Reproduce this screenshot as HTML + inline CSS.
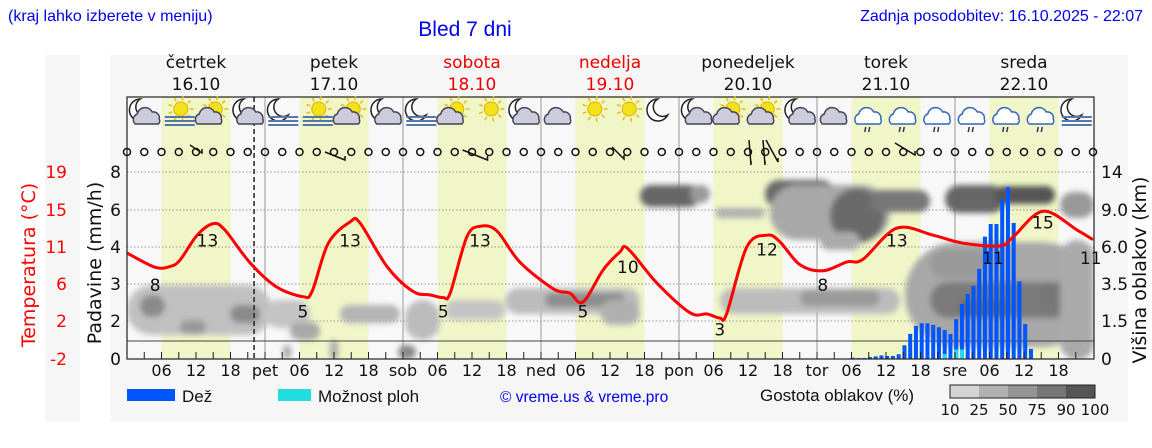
<!DOCTYPE html>
<html><head><meta charset="utf-8"><style>
body{margin:0;background:#fff;width:1152px;height:443px;overflow:hidden;font-family:"Liberation Sans","DejaVu Sans",sans-serif}
svg text{font-family:"DejaVu Sans","Liberation Sans",sans-serif}
</style></head><body>
<svg id="c" width="1152" height="443" viewBox="0 0 1152 443" xmlns="http://www.w3.org/2000/svg">
<defs>
<filter id="bl" x="-30%" y="-30%" width="160%" height="160%"><feGaussianBlur stdDeviation="3"/></filter>
<clipPath id="pc"><rect x="127" y="160" width="967" height="199"/></clipPath>
</defs>
<rect x="45" y="55" width="35" height="367" fill="#f6f6f6"/>
<rect x="110" y="55" width="1018" height="367" fill="#f6f6f6"/>
<text x="8" y="21" fill="#0000ee" font-size="16" style="font-family:'Liberation Sans',sans-serif">(kraj lahko izberete v meniju)</text>
<text x="465" y="36" fill="#0000ee" font-size="21" text-anchor="middle" style="font-family:'Liberation Sans',sans-serif">Bled 7 dni</text>
<text x="1143" y="21" fill="#0000ee" font-size="16" text-anchor="end" style="font-family:'Liberation Sans',sans-serif">Zadnja posodobitev: 16.10.2025 - 22:07</text>
<g id="plot"></g>
</svg>
<script>
// ---- data ----
const dayNames = ["četrtek","petek","sobota","nedelja","ponedeljek","torek","sreda"];
const dayDates = ["16.10","17.10","18.10","19.10","20.10","21.10","22.10"];
const dayAbbr = ["pet","sob","ned","pon","tor","sre"];
const tempHours = [0,4.9,7.5,9.2,12.2,15,17,21.4,26,30.6,32.2,35,38.8,40.5,45.2,49.7,52.7,55,56.2,59.1,61.4,64.3,68.3,74.1,77,79.3,82.8,85.7,87.1,92.2,97.9,100.9,103.1,104.3,107.8,111.3,113.5,117,121,125.2,128,133.9,140.2,145.4,151.8,154.1,159.3,165.2,168];
const tempValues = [9.9,8.3,8.4,9.1,11.9,13.2,12.5,8.8,6.1,5.0,5.6,11.0,13.4,13.3,8.4,5.6,5.2,4.9,5.4,11.7,12.9,12.4,8.9,5.9,5.4,4.4,8.0,10.0,10.4,6.5,3.2,3.05,2.6,3.1,10.6,11.9,11.2,8.6,7.9,8.9,9.2,12.7,11.9,11.0,10.7,11.7,14.6,12.5,11.4];
const tempLabels = [[4.9,8,"8"],[14,13,"13"],[30.6,5,"5"],[38.8,13,"13"],[55,5,"5"],[61.4,13,"13"],[79.3,5,"5"],[87.1,10,"10"],[103.1,3,"3"],[111.3,12,"12"],[121,8,"8"],[133.9,13,"13"],[150.6,11,"11"],[159.3,15,"15"],[167.6,11,"11"]];
const rainStartHour = 126;
const rainValues = [0.07,0.05,0.05,0.1,0.14,0.19,0.16,0.16,0.25,0.72,1.32,1.74,1.88,1.88,1.79,1.67,1.53,1.32,2.05,2.46,2.73,2.95,3.41,4.56,5.24,5.24,6.56,7.2,5.3,3.07,1.84,0.53];
const stormValues = [0,0,0,0,0,0,0,0,0,0,0,0,0,0,0,0,0.26,0,0.5,0.5,0,0,0,0,0,0,0,0,0,0,0,0];
const rainTicks = [0,2,3,4,6,8];
const tempTicks = ["-2","2","6","11","15","19"];
const cloudTicks = ["0","1.5","3.5","6.0","9.0","14"];
const icons = ["mc","sf","sc","mc","mf","sf","sc","mc","mf","sc","s","mc","c","s","s","m","mc","sc","sc","mc","c","cr","cr","cr","cr","cr","cr","mf"];

// ---- axes ----
const X0=127, DAY=138;
const xH = h => X0 + h*DAY/24;
const yT = t => 359 - (t+2)*187/21;
const yR = r => { const k=[0,2,3,4,6,8], p=[359,321,284,247,210,172];
  for(let i=0;i<5;i++) if(r<=k[i+1]) return p[i]+(r-k[i])/(k[i+1]-k[i])*(p[i+1]-p[i]); return 172; };

const NS="http://www.w3.org/2000/svg";
const g=document.getElementById('plot');
function mk(tag,attrs,parent){const e=document.createElementNS(NS,tag);for(const k in attrs)e.setAttribute(k,attrs[k]);(parent||g).appendChild(e);return e;}

let e=mk('rect',{x:127,y:97,width:967,height:262,fill:'#f8f8f8'});


for(let d=0;d<7;d++){
  e=mk('rect',{x:xH(d*24+6),y:97,width:DAY/2,height:262,fill:'#f0f6c8'});
  
  
}
[172,210,247,284,321].forEach(y=>{
  e=mk('line',{x1:127,x2:1094,y1:y,y2:y,stroke:'#777','stroke-width':0.8,'stroke-dasharray':'1.5,2'});
  
  
});
for(let d=1;d<7;d++){
  e=mk('line',{x1:xH(d*24),x2:xH(d*24),y1:97,y2:359,stroke:'#999','stroke-width':1});
  
  
}
// clouds
const cg=mk('g',{'clip-path':'url(#pc)'});
const cl=mk('g',{filter:'url(#bl)'},cg);
const blobs=[
[127,285,145,50,'#c0c0c0'],[140,295,25,22,'#8a8a8a'],[230,305,30,18,'#8a8a8a'],[180,320,26,14,'#999'],
[265,300,45,28,'#c4c4c4'],[290,322,30,18,'#a8a8a8'],[340,305,60,18,'#b4b4b4'],[330,340,8,20,'#aaa'],
[421,320,16,17,'#555'],[405,300,35,40,'#bbb'],[398,345,18,14,'#888'],[283,345,8,14,'#aaa'],
[445,300,60,20,'#c4c4c4'],[505,288,135,26,'#bcbcbc'],[545,293,80,14,'#8c8c8c'],[600,300,40,25,'#b0b0b0'],
[640,185,60,22,'#666'],[690,185,20,18,'#999'],[715,208,50,10,'#b0b0b0'],[765,180,70,28,'#6a6a6a'],
[770,185,120,55,'#a8a8a8'],[830,188,55,55,'#6a6a6a'],[870,190,60,22,'#777'],[820,232,40,18,'#aaa'],
[720,288,180,26,'#bcbcbc'],[800,290,80,16,'#999'],
[905,242,189,105,'#a8a8a8'],[930,282,150,36,'#7a7a7a'],[960,300,50,18,'#666'],[1040,282,54,28,'#777'],
[945,185,60,28,'#666'],[995,186,60,18,'#555'],[1060,192,34,26,'#999'],
[1060,240,34,120,'#aaa'],[930,250,60,28,'#999']
];
blobs.forEach(b=>{
  e=mk('rect',{x:b[0],y:b[1],width:b[2],height:b[3],rx:Math.min(b[2],b[3])/2,fill:b[4]},cl);
  
  
});
e=mk('line',{x1:127,x2:1094,y1:341,y2:341,stroke:'#444','stroke-width':1});


e=mk('line',{x1:xH(22.1),x2:xH(22.1),y1:97,y2:359,stroke:'#222','stroke-width':1.5,'stroke-dasharray':'5,3'});


rainValues.forEach((v,i)=>{
  const h=rainStartHour+i, x=xH(h)+1.2, y=yR(v);
  e=mk('rect',{x:x-2,y:y,width:4,height:359-y,fill:'#0055ff'});
  
  
  if(stormValues[i]>0){const ys=yR(stormValues[i]);
    e=mk('rect',{x:x-2,y:ys,width:4,height:359-ys,fill:'#22dddd'});
    
    }
});
// smooth temp line (Catmull-Rom)
const P=tempHours.map((h,i)=>[xH(h),yT(tempValues[i])]);
let d='M'+P[0][0].toFixed(1)+','+P[0][1].toFixed(1);
for(let i=0;i<P.length-1;i++){
  const p0=P[Math.max(0,i-1)],p1=P[i],p2=P[i+1],p3=P[Math.min(P.length-1,i+2)];
  const c1=[p1[0]+(p2[0]-p0[0])/6,p1[1]+(p2[1]-p0[1])/6],c2=[p2[0]-(p3[0]-p1[0])/6,p2[1]-(p3[1]-p1[1])/6];
  d+=` C${c1[0].toFixed(1)},${c1[1].toFixed(1)} ${c2[0].toFixed(1)},${c2[1].toFixed(1)} ${p2[0].toFixed(1)},${p2[1].toFixed(1)}`;
}
e=mk('path',{d:d,fill:'none',stroke:'#ff0000','stroke-width':3,'stroke-linejoin':'round'});


tempLabels.forEach(l=>{
  e=mk('text',{x:xH(l[0]),y:yT(l[1])+21,'font-size':17,'text-anchor':'middle',fill:'#111'});
  e.textContent=l[2];
  
  
});
e=mk('rect',{x:127,y:97,width:967,height:262,fill:'none',stroke:'#222','stroke-width':1.2});


for(let h=3;h<168;h+=3){
  e=mk('line',{x1:xH(h),x2:xH(h),y1:359,y2:352,stroke:'#222','stroke-width':1});
  
  
}
for(let dd=0;dd<7;dd++){
  [6,12,18].forEach(hh=>{
    e=mk('text',{x:xH(dd*24+hh),y:376,'font-size':16,'text-anchor':'middle',fill:'#111'});
    e.textContent=(hh<10?'0':'')+hh;
    
    
  });
  if(dd>0){
    e=mk('text',{x:xH(dd*24),y:376,'font-size':16,'text-anchor':'middle',fill:'#111'});
    e.textContent=dayAbbr[dd-1];
    
    
  }
  const col=(dd==2||dd==3)?'#ee0000':'#111';
  e=mk('text',{x:xH(dd*24+12),y:68,'font-size':17,'text-anchor':'middle',fill:col});
  e.textContent=dayNames[dd];
  
  
  e=mk('text',{x:xH(dd*24+12),y:90,'font-size':17,'text-anchor':'middle',fill:col});
  e.textContent=dayDates[dd];
  
  
}
rainTicks.forEach((r,i)=>{
  const y=yR(r);
  e=mk('text',{x:121,y:y+6,'font-size':17,'text-anchor':'end',fill:'#111'});
  e.textContent=r;
  
  
  e=mk('text',{x:67,y:y+6,'font-size':17,'text-anchor':'end',fill:'#ff0000'});
  e.textContent=tempTicks[i];
  
  
  e=mk('text',{x:1101,y:y+6,'font-size':17,fill:'#111'});
  e.textContent=cloudTicks[i];
  
  
});
e=mk('text',{x:0,y:0,'font-size':19,'text-anchor':'middle',fill:'#ff0000',transform:'translate(35,265) rotate(-90)'});
e.textContent='Temperatura (°C)';


e=mk('text',{x:0,y:0,'font-size':19,'text-anchor':'middle',fill:'#111',transform:'translate(101,263) rotate(-90)'});
e.textContent='Padavine (mm/h)';


e=mk('text',{x:0,y:0,'font-size':19,'text-anchor':'middle',fill:'#111',transform:'translate(1146,270) rotate(-90)'});
e.textContent='Višina oblakov (km)';


function icon(type,cx,cy){
  const ig=mk('g',{});
  
  
  const hasSun=type[0]=='s', hasMoon=type[0]=='m';
  if(hasSun){mk('circle',{cx:cx+2,cy:cy-4,r:7,fill:'#f3e21a',stroke:'#e0b000'},ig);
    for(let a=0;a<360;a+=40){const r=a*Math.PI/180;mk('line',{x1:cx+2+Math.cos(r)*9,y1:cy-4+Math.sin(r)*9,x2:cx+2+Math.cos(r)*13,y2:cy-4+Math.sin(r)*13,stroke:'#e8c000','stroke-width':1.5},ig);}}
  if(hasMoon){mk('path',{d:`M${cx-4},${cy-14} a11,11 0 1,0 10,16 a9,9 0 1,1 -10,-16z`,fill:'#fff',stroke:'#222','stroke-width':1.5},ig);}
  if(type.includes('c')){const ox=hasSun?-4:(hasMoon?3:0);
    mk('path',{d:`M${cx-12+ox},${cy+11} a6,6 0 0,1 2,-10 a8,8 0 0,1 15,-2 a6,6 0 0,1 7,7 a4,4 0 0,1 -1,5z`,fill:type=='cr'?'#fff':'#ccd',stroke:type=='cr'?'#3366bb':'#445','stroke-width':1.5},ig);}
  if(type=='cr'){mk('line',{x1:cx-3,y1:cy+14,x2:cx-4,y2:cy+19,stroke:'#335','stroke-width':1.5},ig);mk('line',{x1:cx+1,y1:cy+14,x2:cx,y2:cy+19,stroke:'#335','stroke-width':1.5},ig);}
  if(type.includes('f')){[4,8,12].forEach(dy=>mk('line',{x1:cx-14,x2:cx+16,y1:cy+dy,y2:cy+dy,stroke:'#5577aa','stroke-width':2},ig));}
}
icons.forEach((t,i)=>icon(t,xH(3+6*i),113));
for(let i=0;i<=56;i++){
  e=mk('circle',{cx:xH(i*3),cy:152,r:3.5,fill:'none',stroke:'#111','stroke-width':1.5});
  
  
}
[[196,145,12,-8],[335,152,20,8],[475,150,25,10],[618,147,12,12],[750,140,2,25],[764,140,2,25],[772,140,12,22],[905,143,20,12]].forEach(b=>{
  e=mk('path',{d:`M${b[0]-b[2]/2},${b[1]} l${b[2]},${b[3]>0?b[3]:-b[3]} l0,-4`,fill:'none',stroke:'#111','stroke-width':1.5});
  
  
});
e=mk('rect',{x:127,y:389,width:48,height:12,fill:'#0055ff'});


e=mk('text',{x:182,y:402,'font-size':17,fill:'#111',style:"font-family:'Liberation Sans',sans-serif"});e.textContent='Dež';


e=mk('rect',{x:278,y:389,width:33,height:12,fill:'#22dddd'});


e=mk('text',{x:318,y:402,'font-size':17,fill:'#111',style:"font-family:'Liberation Sans',sans-serif"});e.textContent='Možnost ploh';


e=mk('text',{x:500,y:402,'font-size':15.5,fill:'#0000ee',style:"font-family:'Liberation Sans',sans-serif"});e.textContent='© vreme.us & vreme.pro';


e=mk('text',{x:760,y:401,'font-size':17,fill:'#111',style:"font-family:'Liberation Sans',sans-serif"});e.textContent='Gostota oblakov (%)';


['#d4d4d4','#b2b2b2','#949494','#767676','#565656'].forEach((c,i)=>{
  e=mk('rect',{x:950+i*29,y:385,width:29,height:13,fill:c});
  
  
});
mk('rect',{x:950,y:385,width:145,height:13,fill:'none',stroke:'#222'});
['10','25','50','75','90','100'].forEach((t,i)=>{
  e=mk('text',{x:950+i*29,y:415,'font-size':15,'text-anchor':'middle',fill:'#111'});e.textContent=t;
  
  
});
</script>
</body></html>
